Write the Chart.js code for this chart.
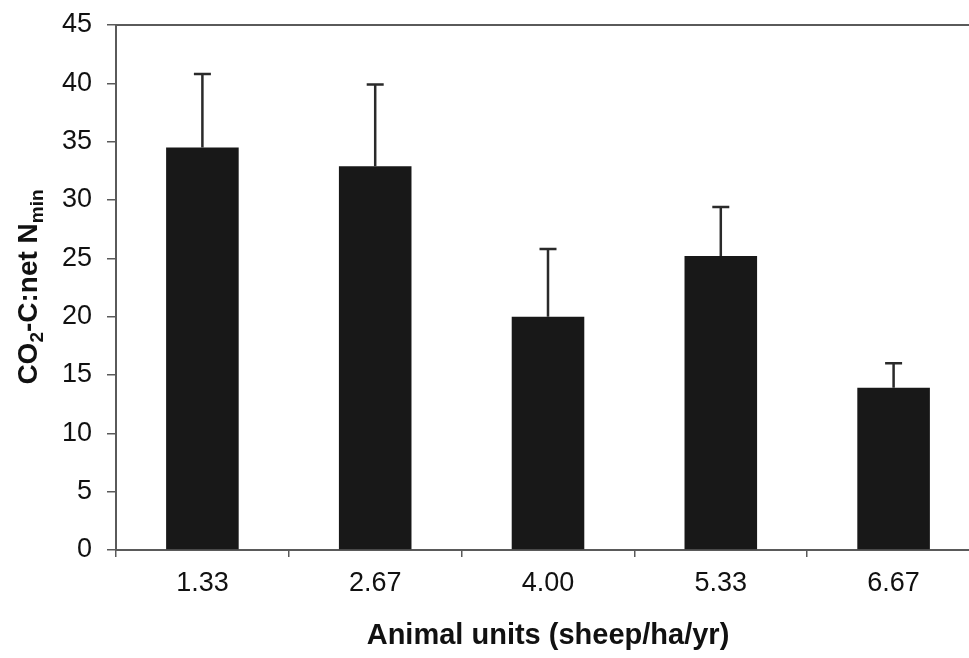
<!DOCTYPE html>
<html>
<head>
<meta charset="utf-8">
<script src="https://cdn.jsdelivr.net/npm/chart.js@4/dist/chart.umd.min.js"></script>
<style>
  html, body { margin: 0; padding: 0; background: #fff; overflow: hidden; }
  #wrap { width: 990px; height: 658px; }
</style>
</head>
<body>
<div id="wrap"><canvas id="c" width="990" height="658"></canvas></div>
<script>
// Stocking rate categories (animal units, sheep/ha/yr)
const categories = ['1.33', '2.67', '4.00', '5.33', '6.67'];
// Mean CO2-C : net N mineralization ratio
const ratioMeans = [34.5, 32.9, 20.0, 25.2, 13.9];
// Upper error (standard deviation) above each mean
const ratioErrors = [6.3, 7.0, 5.8, 4.2, 2.1];
// Y axis range and step
const yMin = 0, yMax = 45, yStep = 5;

const axisGrey = '#5a5a5a';
const family = '"Liberation Sans", Arial, sans-serif';

// Error bars drawn on top of the bars, positioned through the y scale
const errorBars = {
  id: 'errorBars',
  afterDatasetsDraw(chart) {
    const { ctx, scales: { y } } = chart;
    const meta = chart.getDatasetMeta(0);
    ctx.save();
    ctx.strokeStyle = '#2a2a2a';
    ctx.lineWidth = 2.5;
    meta.data.forEach((bar, i) => {
      const x = bar.x;
      const yBase = y.getPixelForValue(ratioMeans[i]);
      const yTop = y.getPixelForValue(ratioMeans[i] + ratioErrors[i]);
      ctx.beginPath();
      ctx.moveTo(x, yBase);
      ctx.lineTo(x, yTop);
      ctx.moveTo(x - 8.5, yTop);
      ctx.lineTo(x + 8.5, yTop);
      ctx.stroke();
    });
    ctx.restore();
  }
};

// Top frame line and the rotated y title with subscripts
const frameAndTitle = {
  id: 'frameAndTitle',
  afterDraw(chart) {
    const { ctx, chartArea } = chart;
    ctx.save();
    ctx.strokeStyle = axisGrey;
    ctx.lineWidth = 2;
    ctx.beginPath();
    ctx.moveTo(chartArea.left, chartArea.top);
    ctx.lineTo(chartArea.right, chartArea.top);
    ctx.stroke();

    const big = 'bold 28px ' + family;
    const small = 'bold 19px ' + family;
    const parts = [
      { t: 'CO', sub: false },
      { t: '2', sub: true },
      { t: '-C:net N', sub: false },
      { t: 'min', sub: true }
    ];
    let total = 0;
    parts.forEach(p => { ctx.font = p.sub ? small : big; p.w = ctx.measureText(p.t).width; total += p.w; });
    ctx.translate(37, 287);
    ctx.rotate(-Math.PI / 2);
    ctx.fillStyle = '#111';
    ctx.textBaseline = 'alphabetic';
    ctx.textAlign = 'left';
    let xPos = -total / 2;
    parts.forEach(p => {
      ctx.font = p.sub ? small : big;
      ctx.fillText(p.t, xPos, p.sub ? 6 : 0);
      xPos += p.w;
    });
    ctx.restore();
  }
};

new Chart(document.getElementById('c'), {
  type: 'bar',
  data: {
    labels: categories,
    datasets: [{
      data: ratioMeans,
      backgroundColor: '#181818',
      borderWidth: 0,
      categoryPercentage: 1.0,
      barPercentage: 0.42
    }]
  },
  options: {
    responsive: false,
    animation: false,
    layout: { padding: { left: 0, top: 25, right: 10, bottom: 0 } },
    plugins: { legend: { display: false }, tooltip: { enabled: false } },
    scales: {
      x: {
        afterFit(scale) {
          scale.height = 108;
          scale.paddingLeft = 0;
          scale.paddingRight = 0;
        },
        grid: {
          offset: true,
          drawOnChartArea: false,
          drawTicks: true,
          tickLength: 7,
          color: axisGrey,
          lineWidth: 1.5
        },
        border: { display: true, color: axisGrey, width: 2 },
        ticks: {
          color: '#111',
          padding: 10,
          font: { family: family, size: 27 }
        },
        title: {
          display: true,
          text: 'Animal units (sheep/ha/yr)',
          color: '#111',
          padding: { top: 0, bottom: 5 },
          font: { family: family, size: 29, weight: 'bold' }
        }
      },
      y: {
        min: yMin,
        max: yMax,
        afterFit(scale) {
          scale.width = 116;
          scale.paddingTop = 0;
          scale.paddingBottom = 0;
        },
        grid: {
          drawOnChartArea: false,
          drawTicks: true,
          tickLength: 9,
          color: axisGrey,
          lineWidth: 1.5
        },
        border: { display: true, color: axisGrey, width: 2 },
        ticks: {
          stepSize: yStep,
          color: '#111',
          padding: 15,
          font: { family: family, size: 27 }
        }
      }
    }
  },
  plugins: [errorBars, frameAndTitle]
});
</script>
</body>
</html>
